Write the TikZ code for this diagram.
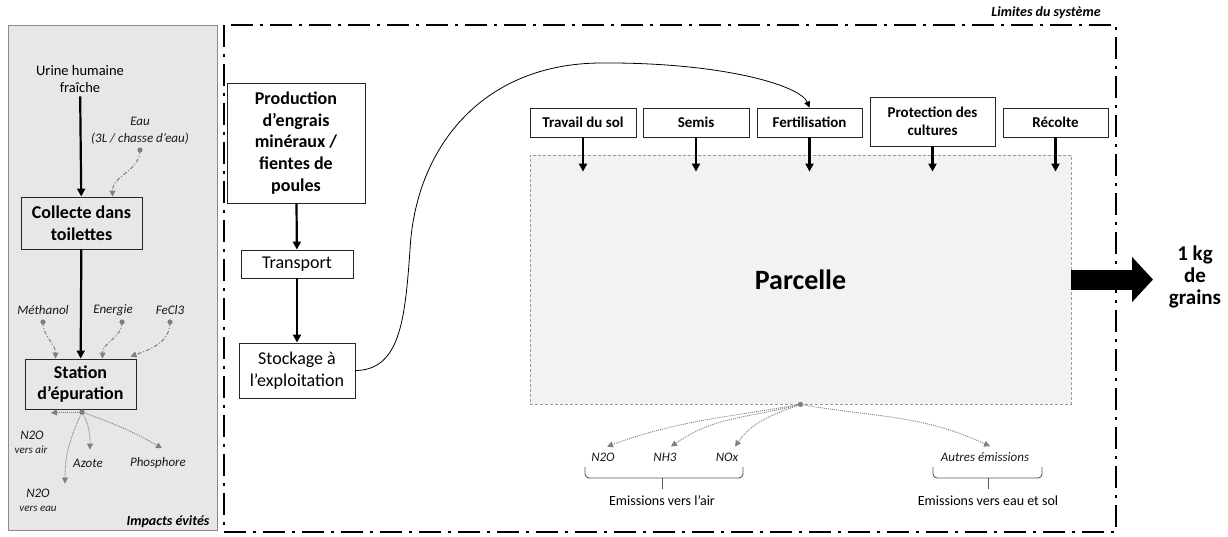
\documentclass[tikz,border=0pt]{standalone}
\usepackage{fontspec}
\setmainfont{Carlito}
\usepackage{tikz}
\usetikzlibrary{calc,shapes,positioning}
\usetikzlibrary{arrows.meta}
\tikzset{>={Triangle[width=8pt,length=8pt]}}
\definecolor{panelgray}{HTML}{E7E7E7}
\definecolor{fieldgray}{HTML}{F2F2F2}
\definecolor{flowgray}{HTML}{7F7F7F}

\begin{document}
\begin{tikzpicture}[x=1pt,y=1pt]
          \tikzstyle{pnode} = [draw=black!85, line width=0.9pt, rectangle, align=center, inner sep=2pt, font=\fontsize{18}{21.7}\selectfont\bfseries]
          \tikzstyle{snode} = [pnode, font=\fontsize{18}{22}\selectfont]
          \tikzstyle{tnode} = [pnode, font=\fontsize{15}{18.3}\selectfont\bfseries]
          \tikzstyle{inlabel} = [align=center, inner sep=1pt, text=black!90, font=\fontsize{13}{17}\selectfont\itshape]
          \tikzstyle{sublabel} = [inlabel, font=\fontsize{11}{13}\selectfont\itshape]
          \tikzstyle{inflow} = [draw=flowgray, line width=1pt, dash pattern=on 4pt off 2pt on 1pt off 2pt, -{Triangle[width=6pt,length=6pt]}]
          \tikzstyle{outflow} = [draw=flowgray, line width=0.9pt, dash pattern=on 1pt off 1pt, -{Triangle[width=6pt,length=6pt]}]
          \tikzstyle{bracket} = [draw=black!65, line width=0.9pt, rounded corners=4pt]

          \useasboundingbox (0,0) rectangle (1228,-536);

          % impacts evites
          \draw[draw=black!45, fill=panelgray] (8,-25) rectangle (217,-530);
          % limites du systeme
          \draw[line width=2.8pt, dash pattern=on 22pt off 7pt on 3pt off 7pt] (224,-25) rectangle (1116,-532);
          \node[font=\fontsize{14}{17}\selectfont\bfseries\itshape] (limites) at (1046,-13) {Limites du système};
          \node[font=\fontsize{14}{17}\selectfont\bfseries\itshape] (evites) at (168,-522) {Impacts évités};

          \node[align=center, font=\fontsize{14.5}{17.5}\selectfont] (urine) at (80,-79) {Urine humaine\\fraîche};
          \node[pnode, minimum width=121pt, minimum height=52pt] (collecte) at (81.5,-223) {Collecte dans\\toilettes};
          \node[pnode, minimum width=111pt, minimum height=50pt] (station) at (80.5,-384) {Station\\d’épuration};
          \draw[->, line width=2.2pt] (urine) to (collecte);
          \draw[->, line width=2.2pt] (collecte) to (station);

          \node[inlabel] (eau) at (140,-131) {Eau\\(3L / chasse d’eau)};
          \node[inlabel] (methanol) at (43,-310) {Méthanol};
          \node[inlabel] (energie) at (113,-310) {Energie};
          \node[inlabel] (fecl) at (170,-310) {FeCl3};
          \coordinate (eaudot) at (140,-150);
          \coordinate (mdot) at (43,-322);
          \coordinate (edot) at (122,-322);
          \coordinate (fdot) at (170,-322);
          \coordinate (sdot) at (82,-412);
          \foreach \d in {eaudot,mdot,edot,fdot,sdot} \fill[flowgray] (\d) circle (2.6);
          \draw[inflow] (eaudot) to[out=-90,in=90] ([xshift=31]collecte.north);
          \draw[inflow] (mdot) to[out=-90,in=90] ([xshift=-25]station.north);
          \draw[inflow] (edot) to[out=-90,in=90] ([xshift=22]station.north);
          \draw[inflow] (fdot) to[out=-90,in=20] ([xshift=50,yshift=2]station.north);

          \node[inlabel] (n2oair) at (32,-435) {N2O};
          \node[sublabel] (n2oairsub) at (31,-450) {vers air};
          \node[inlabel] (azote) at (88,-463) {Azote};
          \node[inlabel] (phos) at (158,-463) {Phosphore};
          \node[inlabel] (n2oeau) at (38,-493) {N2O};
          \node[sublabel] (n2oeausub) at (38,-509) {vers eau};
          \draw[outflow] (sdot) to[out=185,in=5] (51,-413);
          \draw[outflow] (sdot) to[out=-60,in=90] ([xshift=2,yshift=8]azote.north);
          \draw[outflow] (sdot) to[out=-20,in=150] ([xshift=4,yshift=8]phos.north);
          \draw[outflow] (sdot) to[out=-115,in=90] ([xshift=27,yshift=4]n2oeau.north);

          % engrais
          \node[pnode, minimum width=138pt, minimum height=120pt] (prod) at (296,-143) {Production\\d’engrais\\minéraux /\\fientes de\\poules};
          \node[snode, minimum width=112pt, minimum height=28pt] (transport) at (297,-264) {Transport};
          \node[snode, minimum width=116pt, minimum height=55pt] (stockage) at (297,-370.5) {Stockage à\\l’exploitation};
          \draw[->, line width=2.2pt] (prod) to (transport);
          \draw[->, line width=2.2pt] (transport) to (stockage);

          % parcelle
          \node[draw=black!40, line width=0.8pt, dash pattern=on 3pt off 2pt, fill=fieldgray, minimum width=541pt, minimum height=249pt, font=\fontsize{28}{32}\selectfont\bfseries] (parcelle) at (800.5,-279.5) {Parcelle};
          \node[tnode, minimum width=106pt, minimum height=29pt] (travail) at (583,-122.5) {Travail du sol};
          \node[tnode, minimum width=106pt, minimum height=29pt] (semis) at (696,-122.5) {Semis};
          \node[tnode, minimum width=105pt, minimum height=29pt] (fertil) at (809.5,-122.5) {Fertilisation};
          \node[tnode, minimum width=125pt, minimum height=49pt] (protect) at (932.5,-121.5) {Protection des\\cultures};
          \node[tnode, minimum width=105pt, minimum height=29pt] (recolte) at (1055.5,-122.5) {Récolte};
          \foreach \n in {travail,semis,fertil,protect,recolte}
            \draw[->, line width=2.2pt] (\n.south) -- ($(\n.south |- parcelle.north)+(0,-17)$);

          \draw[->, line width=0.8pt, >={Triangle[width=6pt,length=6pt]}] (stockage.east) .. controls (400,-370) and (405,-320) .. (410,-250)
            .. controls (415,-150) and (480,-64) .. (600,-63)
            .. controls (720,-62) and (800,-85) .. (fertil.north);

          % sortie
          \coordinate (tip) at (1153,-279.5);
          \draw[line width=20pt, -{Triangle[width=44pt,length=21pt]}] (parcelle.east) -- (tip);
          \node[align=center, font=\fontsize{21}{22}\selectfont\bfseries] (grains) at (1195,-277) {1 kg\\de\\grains};

          % emissions
          \coordinate (pdot) at (parcelle.south);
          \fill[flowgray] (pdot) circle (2.6);
          \node[inlabel] (n2o) at (603,-457) {N2O};
          \node[inlabel] (nh3) at (665,-457) {NH3};
          \node[inlabel] (nox) at (727,-457) {NOx};
          \node[inlabel] (autres) at (985,-457) {Autres émissions};
          \draw[outflow] (pdot) to[out=190,in=20] ([shift={(4,5)}]n2o.north);
          \draw[outflow] (pdot) to[out=195,in=35] ([shift={(6,5)}]nh3.north);
          \draw[outflow] (pdot) to[out=200,in=55] ([shift={(8,5)}]nox.north);
          \draw[outflow] (pdot) to[out=-10,in=155] ([shift={(5,5)}]autres.north);
          \draw[bracket] (585,-467) -- (585,-478) -- (743,-478) -- (743,-467);
          \draw[bracket] (662,-478) -- (662,-489);
          \draw[bracket] (933,-467) -- (933,-478) -- (1042,-478) -- (1042,-467);
          \draw[bracket] (988,-478) -- (988,-489);
          \node[font=\fontsize{14}{17}\selectfont] (air) at (662,-501) {Emissions vers l’air};
          \node[font=\fontsize{14}{17}\selectfont] (sol) at (988,-501) {Emissions vers eau et sol};
        \end{tikzpicture}
\end{document}
